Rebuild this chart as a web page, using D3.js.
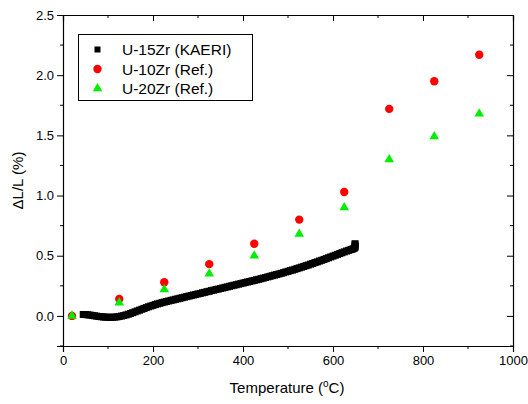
<!DOCTYPE html>
<html lang="en">
<head>
<meta charset="UTF-8"/>
<title>Thermal expansion</title>
<script src="https://d3js.org/d3.v7.min.js"></script>
<style>
  body { margin: 0; background: #fff; }
  svg { display: block; font-family: "Liberation Sans", Arial, sans-serif; }
  .tick text { font-size: 13px; fill: #000; }
</style>
</head>
<body>
<svg id="chart" width="528" height="404"></svg>
<script>
// KAERI measurement (dense curve), [temperature, dL/L]
const kaeri = [
  [45,.012],[50,.011],[55,.009],[60,.007],[65,.004],[70,.001],[75,-.002],[80,-.005],[85,-.007],[90,-.009],
  [95,-.010],[100,-.011],[105,-.012],[110,-.011],[115,-.010],[120,-.008],[125,-.005],[130,-.001],[135,.003],[140,.008],
  [145,.014],[150,.020],[155,.027],[160,.034],[165,.041],[170,.048],[175,.055],[180,.062],[185,.069],[190,.076],
  [195,.082],[200,.088],[205,.094],[210,.100],[215,.105],[220,.110],[225,.115],[230,.120],[235,.124],[240,.129],
  [245,.133],[250,.138],[255,.142],[260,.147],[265,.151],[270,.156],[275,.160],[280,.165],[285,.169],[290,.174],
  [295,.178],[300,.183],[305,.187],[310,.192],[315,.196],[320,.201],[325,.205],[330,.210],[335,.214],[340,.219],
  [345,.223],[350,.228],[355,.232],[360,.237],[365,.241],[370,.246],[375,.250],[380,.255],[385,.259],[390,.264],
  [395,.268],[400,.273],[405,.277],[410,.282],[415,.286],[420,.291],[425,.295],[430,.300],[435,.304],[440,.309],
  [445,.314],[450,.319],[455,.324],[460,.329],[465,.334],[470,.339],[475,.344],[480,.349],[485,.354],[490,.359],
  [495,.365],[500,.370],[505,.376],[510,.381],[515,.387],[520,.393],[525,.399],[530,.405],[535,.411],[540,.417],
  [545,.423],[550,.430],[555,.436],[560,.443],[565,.449],[570,.456],[575,.462],[580,.469],[585,.476],[590,.483],
  [595,.490],[600,.497],[605,.504],[610,.511],[615,.518],[620,.525],[625,.532],[630,.539],[635,.545],[640,.551],
  [644,.556],[647,.562],[649,.570],[649,.580],[649,.590],[649,.600]
];

// reference data
const refT = [20,125,225,325,425,525,625,725,825,925];
const u10V = [0.0,0.14,0.28,0.43,0.60,0.80,1.03,1.72,1.95,2.17];
const u20V = [0.0,0.11,0.22,0.35,0.50,0.68,0.90,1.30,1.49,1.68];

const xTicks = [0,200,400,600,800,1000];
const yTicks = [0.0,0.5,1.0,1.5,2.0,2.5];
const xMinor = [100,300,500,700,900];
const yMinor = [-0.25,0.25,0.75,1.25,1.75,2.25];

const margin = {left: 63, right: 15, top: 15, bottom: 58};
const W = 528, H = 404;
const svg = d3.select('#chart');

const x = d3.scaleLinear().domain([0,1000]).range([margin.left, W - margin.right]);
const y = d3.scaleLinear().domain([-0.25,2.5]).range([H - margin.bottom, margin.top]);

// axes: bottom/left outward ticks, top/right inward
const bottomAxis = d3.axisBottom(x).tickValues(xTicks).tickSize(6).tickPadding(4).tickFormat(d3.format('d'));
const leftAxis = d3.axisLeft(y).tickValues(yTicks).tickSize(6).tickPadding(3).tickFormat(d3.format('.1f'));

const gx = svg.append('g').attr('transform', `translate(0,${y(-0.25)})`).call(bottomAxis);
const gy = svg.append('g').attr('transform', `translate(${x(0)},0)`).call(leftAxis);

function minorX(g) {
  g.selectAll('.minor').data(xMinor).enter().append('line')
    .attr('x1', d => x(d)).attr('x2', d => x(d)).attr('y1', 0).attr('y2', 3).attr('stroke','#000');
}
function minorY(g) {
  g.selectAll('.minor').data(yMinor).enter().append('line')
    .attr('y1', d => y(d)).attr('y2', d => y(d)).attr('x1', 0).attr('x2', -3).attr('stroke','#000');
}
minorX(gx); minorY(gy);

// top and right axes (inward ticks, no labels)
const gt = svg.append('g').attr('transform', `translate(0,${y(2.5)})`)
  .call(d3.axisBottom(x).tickValues(xTicks).tickSize(6).tickFormat(''));
minorX(gt);
const gr = svg.append('g').attr('transform', `translate(${x(1000)},0)`)
  .call(d3.axisLeft(y).tickValues(yTicks).tickSize(6).tickFormat(''));
minorY(gr);

svg.selectAll('.domain').attr('stroke','#000').attr('stroke-width',1.2);
svg.selectAll('.tick line').attr('stroke','#000');

// axis titles
const xt = svg.append('text').attr('x', 287).attr('y', 393).attr('text-anchor','middle')
  .attr('font-size', 15).text('Temperature (');
xt.append('tspan').attr('dy', -6).attr('font-size', 10).text('o');
xt.append('tspan').attr('dy', 6).text('C)');

svg.append('text').attr('transform', `translate(23,${y(1.125)}) rotate(-90)`)
  .attr('text-anchor','middle').attr('font-size', 15).text('\u0394L/L (%)');

// data marks
const plot = svg.append('g');
plot.selectAll('rect.k').data(kaeri).enter().append('rect')
  .attr('x', d => x(d[0]) - 3.5).attr('y', d => y(d[1]) - 3.5)
  .attr('width', 7).attr('height', 7).attr('fill','#000');

plot.selectAll('circle.r').data(refT).enter().append('circle')
  .attr('cx', d => x(d)).attr('cy', (d,i) => y(u10V[i])).attr('r', 4.2).attr('fill','#ff0000');

const tri = d3.symbol().type(d3.symbolTriangle).size(40);
plot.selectAll('path.g').data(refT).enter().append('path')
  .attr('d', tri).attr('transform', (d,i) => `translate(${x(d)},${y(u20V[i])})`).attr('fill','#00ee00');

// legend
const leg = svg.append('g');
leg.append('rect').attr('x', 78.5).attr('y', 34.5).attr('width', 174).attr('height', 66)
  .attr('fill','#fff').attr('stroke','#000').attr('stroke-width',1);
const rows = [49.5, 69, 88.5];
const names = ['U-15Zr (KAERI)','U-10Zr (Ref.)','U-20Zr (Ref.)'];
leg.append('rect').attr('x', 94.5).attr('y', rows[0]-3).attr('width', 6).attr('height', 6).attr('fill','#000');
leg.append('circle').attr('cx', 97.5).attr('cy', rows[1]).attr('r', 4.2).attr('fill','#ff0000');
leg.append('path').attr('d', tri).attr('transform', `translate(97.5,${rows[2]})`).attr('fill','#00ee00');
leg.selectAll('text.l').data(names).enter().append('text')
  .attr('x', 122).attr('y', (d,i) => rows[i] + 5.5).attr('font-size', 15.5).text(d => d);
</script>
</body>
</html>
